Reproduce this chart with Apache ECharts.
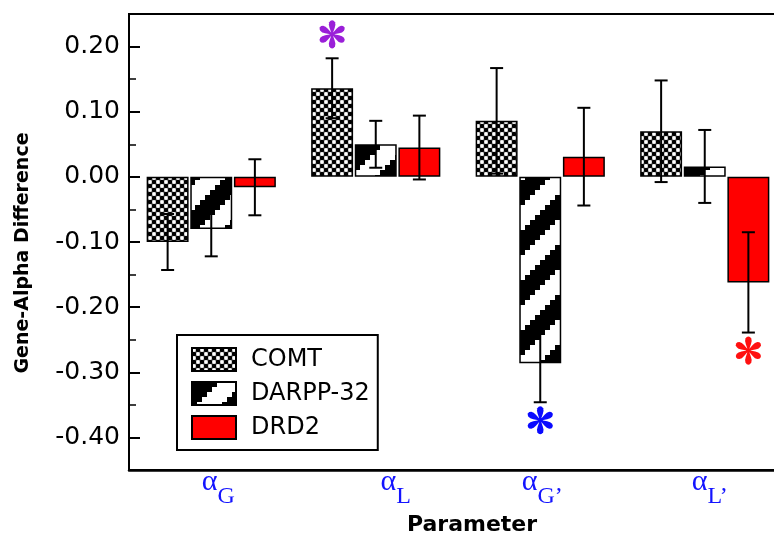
<!DOCTYPE html>
<html>
<head>
<meta charset="utf-8">
<script src="https://cdn.jsdelivr.net/npm/echarts@6/dist/echarts.min.js"></script>
<style>
  html, body { margin: 0; padding: 0; background: #fff; }
  #chart { width: 774px; height: 538px; }
</style>
</head>
<body>
<div id="chart"></div>
<script>
// Parameters on the x axis (alpha with subscript)
const categories = ['αG', 'αL', 'αG’', 'αL’'];
const genes = ['COMT', 'DARPP-32', 'DRD2'];

// Mean gene-alpha difference and error per parameter
const comtMean  = [-0.100, 0.136, 0.086, 0.070];
const comtErr   = [0.043, 0.046, 0.081, 0.078];
const darppMean = [-0.080, 0.050, -0.286, 0.016];
const darppErr  = [0.042, 0.036, 0.060, 0.056];
const drd2Mean  = [-0.016, 0.045, 0.031, -0.162];
const drd2Err   = [0.043, 0.049, 0.075, 0.077];

// Labelled ticks on the y axis
const yTickValues = [-0.40, -0.30, -0.20, -0.10, 0.00, 0.10, 0.20];

// Significant differences: [parameter index, gene index, side of the error bar]
const significant = [[1, 0, 'up'], [2, 1, 'down'], [3, 2, 'down']];
const starColors = ['#9a1fd8', '#0a0aff', '#ff1010'];

const means = [comtMean, darppMean, drd2Mean];
const errs = [comtErr, darppErr, drd2Err];

const BAR_FRAC = 0.255;
const BAR_GAP = 0.04;

// Fill patterns for the bars
function checkerPattern() {
  const c = document.createElement('canvas');
  c.width = 8; c.height = 8;
  const g = c.getContext('2d');
  g.fillStyle = '#6a6a6a';
  g.fillRect(0, 0, 8, 8);
  const dot = (x, y, col, r) => { g.fillStyle = col; g.beginPath(); g.arc(x, y, r, 0, Math.PI * 2); g.fill(); };
  [[6, 2], [2, 6], [10, 6], [6, 10], [-2, 2], [2, -2], [10, -2], [-2, 10]].forEach(([x, y]) => dot(x, y, '#000000', 2.3));
  [[2, 2], [6, 6], [10, 2], [2, 10], [-2, 6], [6, -2], [10, 10], [-2, -2]].forEach(([x, y]) => dot(x, y, '#ffffff', 1.9));
  return c;
}
function stripePattern() {
  const step = 5, n = 10;
  const c = document.createElement('canvas');
  c.width = step * n; c.height = step * n;
  const g = c.getContext('2d');
  g.fillStyle = '#ffffff';
  g.fillRect(0, 0, c.width, c.height);
  g.fillStyle = '#000000';
  for (let i = 0; i < n; i++) {
    for (let j = 0; j < n; j++) {
      if ((i + j) % n < n / 2) g.fillRect(i * step, j * step, step, step);
    }
  }
  return c;
}

const fills = [
  { image: checkerPattern(), repeat: 'repeat' },
  { image: stripePattern(), repeat: 'repeat' },
  '#ff0000'
];

function barOffset(api, gene) {
  const band = api.size([1, 0])[0];
  const bw = band * BAR_FRAC;
  return (gene - 1) * bw * (1 + BAR_GAP);
}

const errorRows = [];
genes.forEach((_, gi) => {
  categories.forEach((_, ci) => errorRows.push([ci, gi, means[gi][ci], errs[gi][ci]]));
});

const starRows = significant.map(([ci, gi, side], k) => {
  const sign = side === 'up' ? 1 : -1;
  return [ci, gi, means[gi][ci] + sign * errs[gi][ci], sign, k];
});

// six tapered petals of an asterisk, pointing up before rotation
const petal = [[-0.9, -1.5], [-2.6, -6.5], [-3.3, -9.5], [-2.9, -12], [-1.6, -13.6], [0, -14.1],
               [1.6, -13.6], [2.9, -12], [3.3, -9.5], [2.6, -6.5], [0.9, -1.5]];

const series = genes.map((name, gi) => ({
  name: name,
  type: 'bar',
  data: means[gi],
  barWidth: (BAR_FRAC * 100) + '%',
  barGap: (BAR_GAP * 100) + '%',
  itemStyle: { color: fills[gi], borderColor: '#000', borderWidth: 1.5 },
  z: 2
}));

series.push({
  name: 'error',
  type: 'custom',
  data: errorRows,
  encode: { x: 0, y: 2 },
  z: 5,
  silent: true,
  renderItem: function (params, api) {
    const cat = api.value(0), gene = api.value(1), m = api.value(2), e = api.value(3);
    const dx = barOffset(api, gene);
    const top = api.coord([cat, m + e]);
    const bot = api.coord([cat, m - e]);
    const x = top[0] + dx;
    const cap = 6.5;
    const st = { stroke: '#000', lineWidth: 2 };
    return {
      type: 'group',
      children: [
        { type: 'line', shape: { x1: x, y1: top[1], x2: x, y2: bot[1] }, style: st },
        { type: 'line', shape: { x1: x - cap, y1: top[1], x2: x + cap, y2: top[1] }, style: st },
        { type: 'line', shape: { x1: x - cap, y1: bot[1], x2: x + cap, y2: bot[1] }, style: st }
      ]
    };
  }
});

series.push({
  name: 'significance',
  type: 'custom',
  data: starRows,
  encode: { x: 0, y: 2 },
  z: 6,
  silent: true,
  renderItem: function (params, api) {
    const cat = api.value(0), gene = api.value(1), v = api.value(2), sign = api.value(3), k = api.value(4);
    const p = api.coord([cat, v]);
    const cx = p[0] + barOffset(api, gene);
    const cy = p[1] + (sign > 0 ? -24 : 18);
    const color = starColors[k];
    const children = [];
    for (let a = 0; a < 6; a++) {
      const t = a * Math.PI / 3;
      const pts = petal.map(([x, y]) => [cx + x * Math.cos(t) - y * Math.sin(t), cy + x * Math.sin(t) + y * Math.cos(t)]);
      children.push({ type: 'polygon', shape: { points: pts }, style: { fill: color } });
    }
    children.push({ type: 'circle', shape: { cx: cx, cy: cy, r: 2.4 }, style: { fill: color } });
    return { type: 'group', children: children };
  }
});

const labelPad = [14, 40, 4, 10];
const rich = {
  a: { fontFamily: 'Liberation Serif', fontSize: 30, color: '#1414ff', lineHeight: 30, verticalAlign: 'top' },
  s: { fontFamily: 'Liberation Serif', fontSize: 24, color: '#1414ff', lineHeight: 24, padding: [18, 0, 0, 0], verticalAlign: 'top' }
};
labelPad.forEach((w, i) => { rich['p' + i] = { width: w, fontSize: 10, lineHeight: 10, verticalAlign: 'top' }; });

const chart = echarts.init(document.getElementById('chart'), null, { renderer: 'canvas' });
chart.setOption({
  backgroundColor: '#fff',
  animation: false,
  grid: {
    left: 129, top: 14, width: 658, bottom: 68,
    outerBoundsMode: 'none',
    containLabel: false,
    show: true, borderColor: '#000', borderWidth: 2, backgroundColor: 'transparent'
  },
  legend: {
    data: genes,
    orient: 'vertical',
    left: 177, top: 335,
    padding: [12, 8, 10, 14],
    borderColor: '#000', borderWidth: 2,
    itemWidth: 44, itemHeight: 23, itemGap: 9,
    icon: 'rect',
    selectedMode: false,
    textStyle: { fontFamily: 'DejaVu Sans', fontSize: 24, color: '#000', padding: [0, 0, 0, 10] }
  },
  xAxis: {
    type: 'category',
    data: categories,
    name: 'Parameter',
    nameLocation: 'middle',
    nameGap: 43,
    nameTextStyle: { fontFamily: 'DejaVu Sans', fontWeight: 'bold', fontSize: 22, color: '#000', padding: [0, 0, 0, 28] },
    axisLine: { onZero: false, lineStyle: { color: '#000', width: 2.5 } },
    axisTick: { show: false },
    axisLabel: {
      margin: -3,
      formatter: (value, idx) => '{p' + idx + '| }{a|α}{s|' + value.slice(1) + '}',
      rich: rich
    },
    splitLine: { show: false }
  },
  yAxis: [{
    type: 'value',
    min: -0.45, max: 0.25, interval: 0.05,
    name: 'Gene-Alpha Difference',
    nameLocation: 'middle',
    nameGap: 96,
    nameTextStyle: { fontFamily: 'DejaVu Sans', fontWeight: 'bold', fontSize: 19, color: '#000', padding: [0, 22, 0, 0] },
    axisLine: { show: true, lineStyle: { color: '#000', width: 2 } },
    axisTick: { show: true, inside: true, length: 7, lineStyle: { color: '#000', width: 1.5 } },
    axisLabel: {
      margin: 9,
      fontFamily: 'DejaVu Sans', fontSize: 25, color: '#000',
      customValues: yTickValues,
      formatter: v => (Math.abs(v * 10 - Math.round(v * 10)) < 1e-6 ? v.toFixed(2) : '')
    },
    splitLine: { show: false }
  }, {
    type: 'value',
    min: -0.45, max: 0.25, interval: 0.05,
    position: 'left',
    axisLine: { show: false },
    axisTick: { show: true, inside: true, length: 11, customValues: yTickValues, lineStyle: { color: '#000', width: 2 } },
    axisLabel: { show: false },
    splitLine: { show: false }
  }],
  series: series
});
</script>
</body>
</html>
